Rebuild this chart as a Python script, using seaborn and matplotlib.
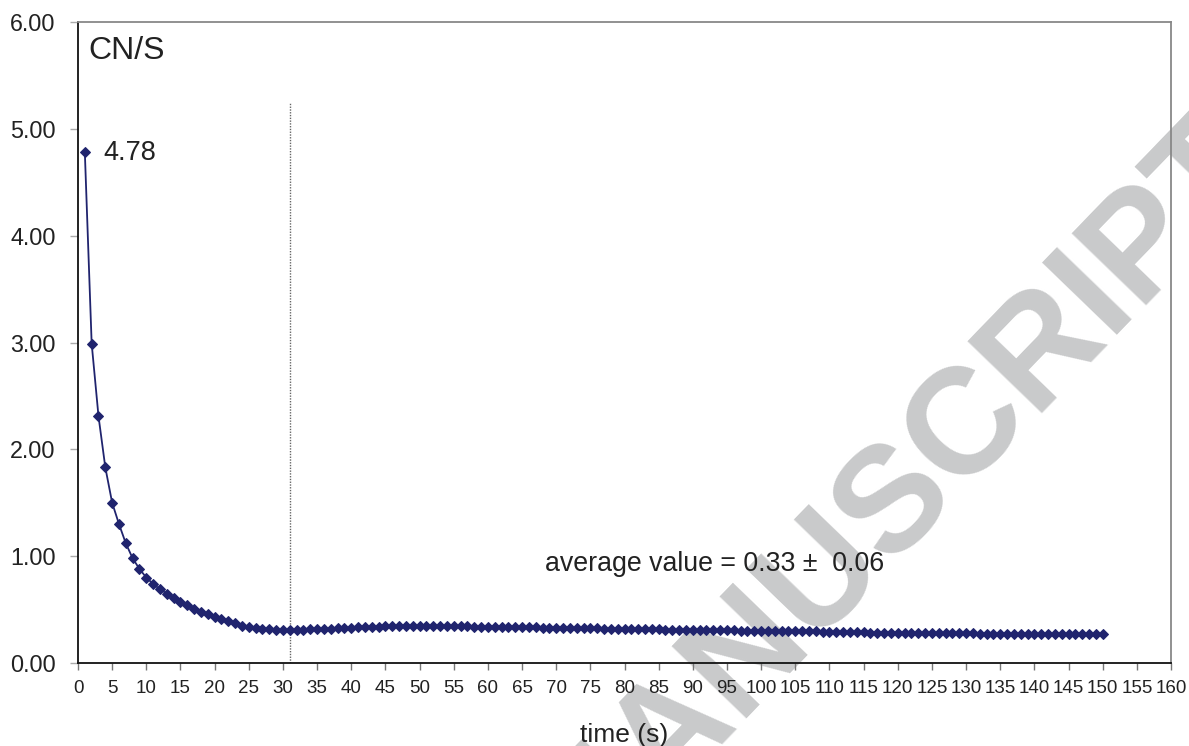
import matplotlib
matplotlib.use("Agg")
import matplotlib.pyplot as plt
import seaborn as sns
import pandas as pd
import numpy as np

# ---- data ----
time_s = list(range(1, 151))
cn_s = [
    4.78, 2.99, 2.31, 1.83, 1.50, 1.30, 1.12, 0.98, 0.88, 0.80,
    0.74, 0.69, 0.65, 0.61, 0.57, 0.54, 0.51, 0.48, 0.46, 0.43,
    0.41, 0.39, 0.37, 0.35, 0.34, 0.33, 0.32, 0.315, 0.31, 0.31,
    0.31, 0.31, 0.31, 0.315, 0.315, 0.32, 0.32, 0.325, 0.33, 0.33,
    0.335, 0.335, 0.34, 0.34, 0.345, 0.345, 0.35, 0.35, 0.35, 0.35,
    0.35, 0.35, 0.35, 0.345, 0.345, 0.345, 0.345, 0.34, 0.34, 0.34,
    0.34, 0.34, 0.34, 0.335, 0.335, 0.335, 0.335, 0.33, 0.33, 0.33,
    0.33, 0.33, 0.325, 0.325, 0.325, 0.325, 0.32, 0.32, 0.32, 0.32,
    0.32, 0.315, 0.315, 0.315, 0.315, 0.31, 0.31, 0.31, 0.31, 0.31,
    0.31, 0.305, 0.305, 0.305, 0.305, 0.305, 0.30, 0.30, 0.30, 0.30,
    0.30, 0.30, 0.30, 0.295, 0.295, 0.295, 0.295, 0.295, 0.29, 0.29,
    0.29, 0.29, 0.29, 0.29, 0.29, 0.285, 0.285, 0.285, 0.285, 0.285,
    0.285, 0.285, 0.28, 0.28, 0.28, 0.28, 0.28, 0.28, 0.28, 0.28,
    0.28, 0.275, 0.275, 0.275, 0.275, 0.275, 0.275, 0.275, 0.275, 0.275,
    0.27, 0.27, 0.27, 0.27, 0.27, 0.27, 0.27, 0.27, 0.27, 0.27,
]
x_ticks = list(range(0, 161, 5))
y_ticks = [0, 1, 2, 3, 4, 5, 6]
marker_time = 31
marker_top = 5.24
first_label = "4.78"
panel_title = "CN/S"
avg_text = "average value = 0.33 \u00b1  0.06"
x_label = "time (s)"
watermark = "ACCEPTED MANUSCRIPT"

df = pd.DataFrame({"time": time_s, "value": cn_s})

sns.set_style("white")
plt.rcParams["font.family"] = ["Liberation Sans", "DejaVu Sans"]

W, H = 1189, 746
fig = plt.figure(figsize=(W / 100, H / 100), dpi=100)
fig.patch.set_facecolor("white")
ax = fig.add_axes([78 / W, 1 - 663 / H, (1171 - 78) / W, (663 - 22) / H])
ax.set_facecolor("none")
ax.set_zorder(1)

# watermark behind everything
fig.text(1273 / W, 1 - 174 / H, watermark, fontsize=108, fontweight="bold",
         color="#c9cacb", rotation=46, rotation_mode="anchor",
         ha="right", va="baseline", zorder=0)

color = "#20246e"
sns.lineplot(data=df, x="time", y="value", ax=ax, color=color, lw=1.3,
             marker="D", markersize=5.5, markeredgecolor=color,
             markerfacecolor=color, zorder=3)

ax.plot([marker_time, marker_time], [0, marker_top], ls=(0, (1, 1)),
        color="#666666", lw=1.0, zorder=2)

ax.set_xlim(0, 160)
ax.set_ylim(0, 6)
ax.set_xticks(x_ticks)
ax.set_xticklabels([str(t) for t in x_ticks], fontsize=13.5)
ax.set_yticks(y_ticks)
ax.set_yticklabels([f"{v:.2f}" for v in y_ticks], fontsize=16.8)
ax.tick_params(axis="x", direction="out", length=5, width=1, color="#777777",
               pad=7, labelcolor="#222222")
ax.tick_params(axis="y", direction="out", length=6, width=1, color="#aaaaaa",
               pad=10, labelcolor="#222222")
ax.tick_params(bottom=True, left=True)

for side in ["left", "bottom"]:
    ax.spines[side].set_color("#111111")
    ax.spines[side].set_linewidth(1.3)
for side in ["top", "right"]:
    ax.spines[side].set_color("#888888")
    ax.spines[side].set_linewidth(1.3)
    ax.spines[side].set_visible(True)

ax.set_xlabel(x_label, fontsize=19, labelpad=19, color="#222222")
ax.set_ylabel("")

ax.text(1.5, 5.73, panel_title, fontsize=23, color="#222222", va="center", ha="left")
ax.text(3.7, 4.77, first_label, fontsize=19.5, color="#222222", va="center", ha="left")
ax.text(68.3, 0.93, avg_text, fontsize=19.3, color="#222222", va="center", ha="left")

fig.savefig("out.png", dpi=100)
